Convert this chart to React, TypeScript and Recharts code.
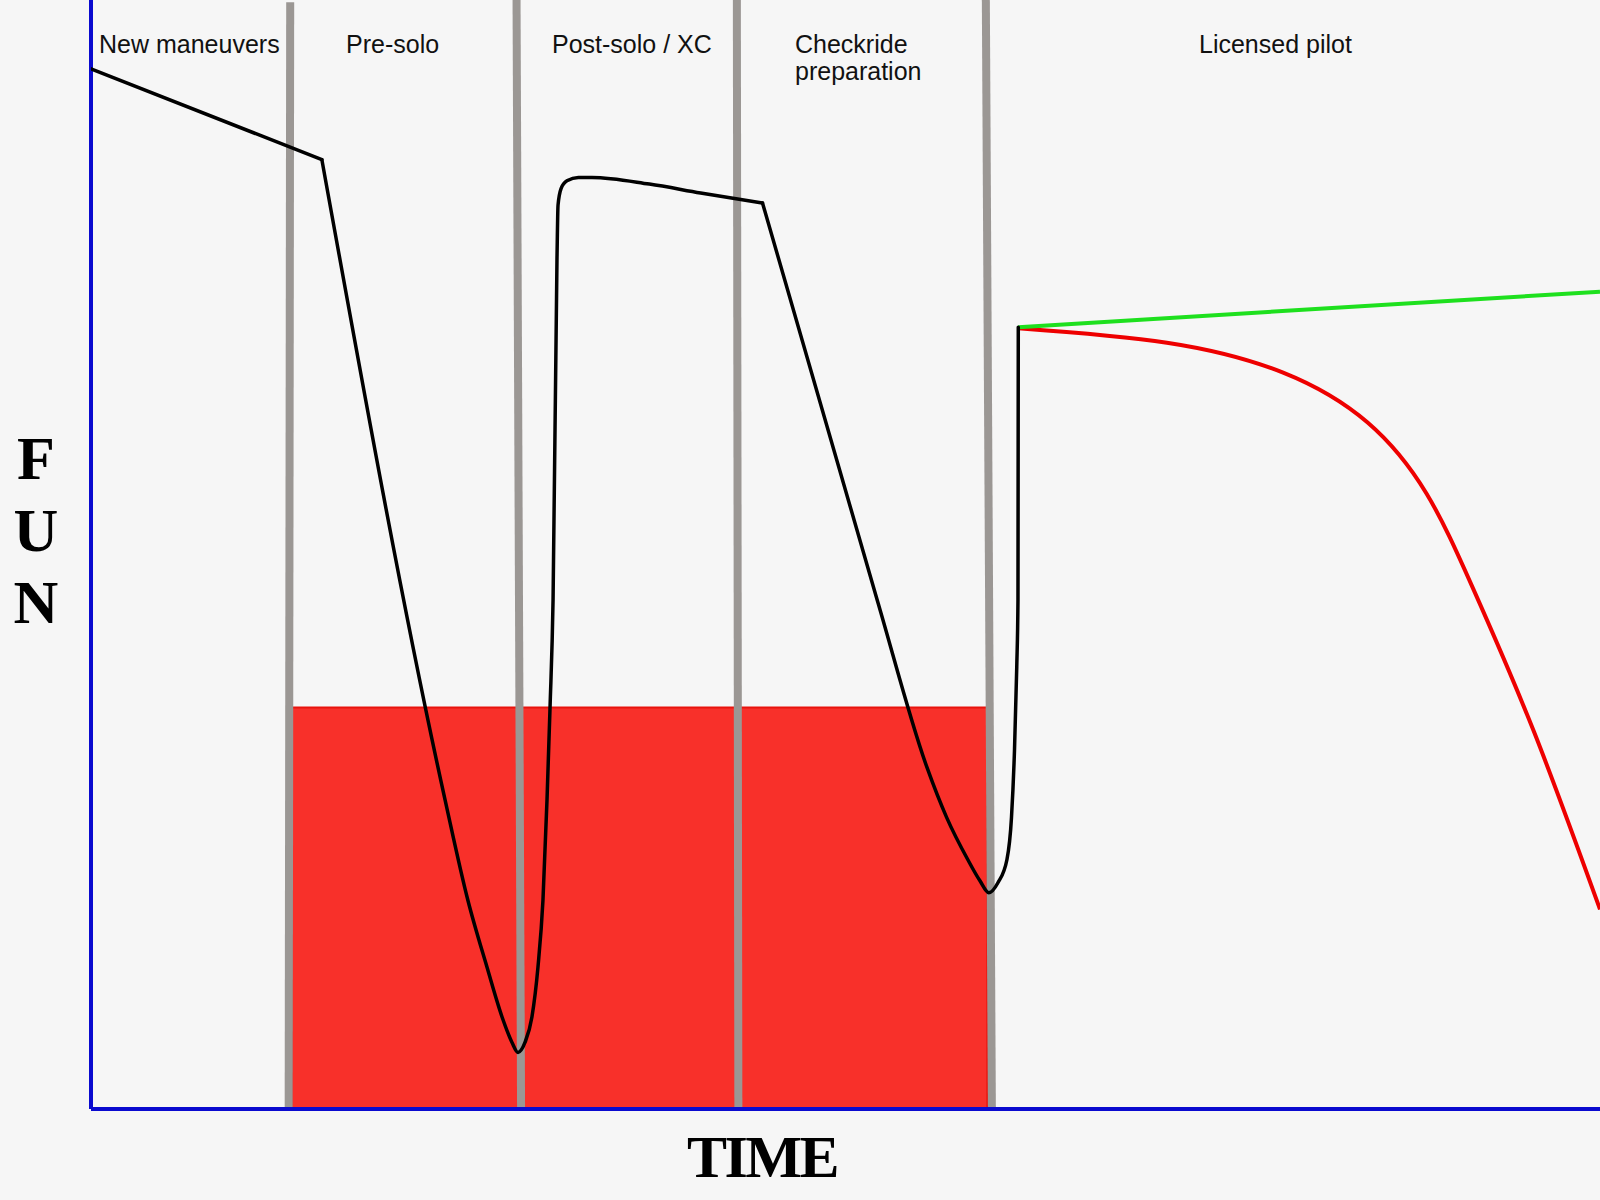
import { ComposedChart, Line, XAxis, YAxis, ReferenceLine, ReferenceArea } from "recharts";

// ─── Data (time 0–100 on x, fun 0–100 on y) ─────────────────────────────────

const phaseLabels = ["New maneuvers", "Pre-solo", "Post-solo / XC", "Checkride", "Licensed pilot"];
const phaseSubLabels = ["", "", "", "preparation", ""];

// phase dividers: x at top and at bottom of the plot (they lean a little)
const dividerTopX = [13.2, 28.2, 42.8, 59.3];
const dividerBottomX = [13.1, 28.5, 42.9, 59.7];
const dividerTopY = [99.8, 100, 100, 100];

// the red "frustration" block
const stressX = [13.3, 59.4];
const stressY = [0, 36.2];

// student pilot fun curve, in three pieces split at the sharp corners
const newManeuversX = [0, 15.3];
const newManeuversY = [93.8, 85.6];

const soloX = [
    15.3, 23.46, 24.98, 26.24, 27.24, 27.9, 28.3, 28.76, 29.22, 29.62, 29.95, 30.22, 30.42,
    30.62, 30.88, 30.95, 31.15, 31.54, 32.3, 33.2, 37.0, 40.4, 44.5,
];
const soloY = [
    85.6, 27.9, 18.8, 12.8, 8.3, 6.0, 5.1, 6.0, 8.3, 12.8, 18.8, 27.9, 36.2,
    45.9, 76.6, 81.5, 83.0, 83.7, 84.0, 84.0, 83.4, 82.6, 81.7,
];

const checkrideX = [
    44.5, 52.1, 55.4, 56.7, 58.1, 58.9, 59.5, 60.1, 60.7, 61.0, 61.2, 61.35, 61.43, 61.45,
];
const checkrideY = [
    81.7, 45.9, 30.8, 26.3, 22.5, 20.6, 19.5, 20.4, 22.5, 26.3, 32.4, 39.9, 45.9, 70.5,
];

// licensed pilot who keeps flying
const keepX = [61.45, 100];
const keepY = [70.5, 73.7];

// licensed pilot who stops flying
const quitX = [61.45, 71.3, 79.0, 84.6, 88.5, 91.6, 95.6, 100];
const quitY = [70.4, 69.1, 66.4, 61.9, 55.5, 46.9, 34.1, 18.0];

const zip = (xs: number[], ys: number[]) => xs.map((x, i) => ({ x, y: ys[i] }));

const trainingParts = [
    { data: zip(newManeuversX, newManeuversY), type: "linear" as const },
    { data: zip(soloX, soloY), type: "monotone" as const },
    { data: zip(checkrideX, checkrideY), type: "monotone" as const },
];
const keepFlying = zip(keepX, keepY);
const quitFlying = zip(quitX, quitY);

// ─── Layout ────────────────────────────────────────────────────────────────

const W = 1600;
const H = 1200;
const BG = "#f6f6f6";
const BLUE = "#0a0acf";
const GRAY = "#9b9794";
const labelLeft = [99, 346, 552, 795, 1199];
const SANS = "'Liberation Sans', Arial, sans-serif";
const SERIF = "'Liberation Serif', 'Times New Roman', serif";

export default function App() {
    return (
        <div style={{ position: "absolute", left: 0, top: 0, width: W, height: H, background: BG }}>
            <ComposedChart
                width={W}
                height={H}
                margin={{ top: 0, right: 0, left: 91, bottom: 91 }}
            >
                <XAxis type="number" dataKey="x" domain={[0, 100]} hide allowDataOverflow />
                <YAxis type="number" dataKey="y" domain={[0, 100]} hide allowDataOverflow />
                <ReferenceArea
                    x1={stressX[0]}
                    x2={stressX[1]}
                    y1={stressY[0]}
                    y2={stressY[1]}
                    fill="#f8302a"
                    fillOpacity={1}
                    stroke="#e8140e"
                    strokeWidth={2}
                    ifOverflow="visible"
                />
                {dividerTopX.map((tx, i) => (
                    <ReferenceLine
                        key={i}
                        segment={[
                            { x: tx, y: dividerTopY[i] },
                            { x: dividerBottomX[i], y: 0 },
                        ]}
                        stroke={GRAY}
                        strokeWidth={8}
                        ifOverflow="visible"
                    />
                ))}
                {/* axes */}
                <ReferenceLine x={0} stroke={BLUE} strokeWidth={4} ifOverflow="visible" />
                <ReferenceLine y={0} stroke={BLUE} strokeWidth={4} ifOverflow="visible" />
                <Line
                    data={quitFlying}
                    dataKey="y"
                    type="natural"
                    stroke="#ee0000"
                    strokeWidth={4}
                    dot={false}
                    activeDot={false}
                    isAnimationActive={false}
                />
                <Line
                    data={keepFlying}
                    dataKey="y"
                    type="linear"
                    stroke="#1ee01e"
                    strokeWidth={4}
                    dot={false}
                    activeDot={false}
                    isAnimationActive={false}
                />
                {trainingParts.map((p, i) => (
                    <Line
                        key={i}
                        data={p.data}
                        dataKey="y"
                        type={p.type}
                        stroke="#000000"
                        strokeWidth={3.5}
                        strokeLinejoin="round"
                        strokeLinecap="round"
                        dot={false}
                        activeDot={false}
                        isAnimationActive={false}
                    />
                ))}
            </ComposedChart>

            {/* phase labels and axis titles */}
            <svg
                width={W}
                height={H}
                style={{ position: "absolute", left: 0, top: 0, pointerEvents: "none" }}
            >
                {phaseLabels.map((t, i) => (
                    <text key={t} x={labelLeft[i]} y={53} fontFamily={SANS} fontSize={25} fill="#111">
                        {t}
                        {phaseSubLabels[i] && (
                            <tspan x={labelLeft[i]} dy={27}>{phaseSubLabels[i]}</tspan>
                        )}
                    </text>
                ))}
                {["F", "U", "N"].map((c, i) => (
                    <text
                        key={c}
                        x={36}
                        y={479 + i * 72}
                        textAnchor="middle"
                        fontFamily={SERIF}
                        fontWeight="bold"
                        fontSize={62}
                        fill="#000"
                    >
                        {c}
                    </text>
                ))}
                <text
                    x={762}
                    y={1177}
                    textAnchor="middle"
                    fontFamily={SERIF}
                    fontWeight="bold"
                    fontSize={60}
                    letterSpacing={-2.5}
                    fill="#000"
                >
                    TIME
                </text>
            </svg>
        </div>
    );
}
